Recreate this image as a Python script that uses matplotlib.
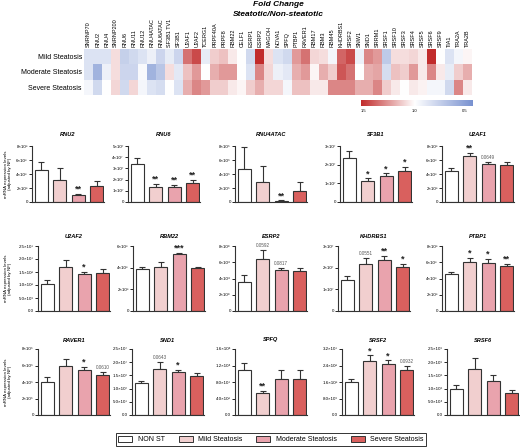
import math
import numpy as np
import matplotlib
matplotlib.use('Agg')
import matplotlib.pyplot as plt
from matplotlib.colors import LinearSegmentedColormap, Normalize
from matplotlib.patches import Patch

plt.rcParams['font.family'] = ['Liberation Sans', 'DejaVu Sans']

# ---------------- heatmap data ----------------
genes = ['SNRNP70', 'RNU2', 'RNU4', 'SNRNP200', 'RNU6', 'RNU11', 'RNU12', 'RNU4ATAC',
         'RNU6ATAC', 'SF3B1 TV1', 'SF3B1', 'U2AF1', 'U2AF2', 'TCERG1', 'PRPF40A', 'PRPF8',
         'RBM22', 'CELF1', 'ESRP1', 'ESRP2', 'MAGOH', 'NOVA1', 'SPFQ', 'PTBP1', 'RAVER1',
         'RBM17', 'RBM3', 'RBM45', 'KHDRBS1', 'SRSF2', 'SNW1', 'SND1', 'SRRM1', 'SRSF1',
         'SRSF10', 'SRSF3', 'SRSF4', 'SRSF5', 'SRSF6', 'SRSF9', 'TIA1', 'TRA2A', 'TRA2B']
heat_rows = ['Mild Steatosis', 'Moderate Steatosis', 'Severe Steatosis']
fc_mild = [0.85, 0.85, 0.85, 1.08, 0.75, 0.80, 0.85, 0.92, 0.78, 0.90, 0.78, 1.35, 1.45,
           0.90, 1.12, 1.15, 1.05, 1.00, 0.80, 1.60, 1.08, 0.85, 0.80, 1.25, 1.35, 1.10,
           1.08, 0.95, 1.38, 1.45, 0.92, 1.30, 1.25, 0.72, 1.08, 1.08, 1.10, 1.05, 1.60,
           1.00, 0.85, 0.95, 1.02]
fc_moderate = [0.85, 0.60, 0.92, 1.08, 0.78, 0.78, 0.97, 0.60, 0.70, 1.08, 0.88, 1.15,
               1.25, 1.00, 1.20, 1.25, 1.25, 1.00, 0.85, 1.30, 1.10, 0.92, 0.88, 1.20,
               1.25, 1.02, 1.20, 1.12, 1.42, 1.35, 1.00, 1.20, 1.22, 0.82, 1.15, 1.12,
               1.25, 1.05, 1.30, 1.05, 0.90, 1.12, 1.20]
fc_severe = [0.95, 0.80, 1.00, 1.10, 0.80, 1.10, 0.95, 0.85, 0.82, 1.00, 0.85, 1.20, 1.30,
             1.25, 1.12, 1.12, 1.05, 1.02, 1.12, 1.20, 1.10, 1.10, 0.95, 1.15, 1.15, 1.05,
             1.05, 1.30, 1.30, 1.30, 1.20, 1.20, 1.30, 1.12, 1.05, 1.00, 1.05, 1.03, 0.95,
             0.95, 0.80, 1.30, 1.05]
cbar_ticks = [1.5, 1.0, 0.5]

# ---------------- bar chart data ----------------
groups = ['NON ST', 'Mild Steatosis', 'Moderate Steatosis', 'Severe Steatosis']
group_colors = ['#ffffff', '#f1cfcf', '#e9a3ad', '#d9605e']

panel_titles = [['RNU2', 'RNU6', 'RNU4ATAC', 'SF3B1', 'U2AF1'],
                ['U2AF2', 'RBM22', 'ESRP2', 'KHDRBS1', 'PTBP1'],
                ['RAVER1', 'SND1', 'SPFQ', 'SRSF2', 'SRSF6']]
panel_means = [[[4.6, 3.2, 0.95, 2.25], [3.4, 1.3, 1.3, 1.7], [4.7, 2.9, 0.15, 1.6],
                [2.35, 1.15, 1.4, 1.65], [4.5, 6.55, 5.45, 5.3]],
               [[1.05, 1.68, 1.43, 1.45], [3.85, 4.1, 5.25, 3.95], [3.6, 6.4, 5.05, 4.9],
                [1.45, 2.15, 2.35, 2.05], [4.6, 6.0, 5.95, 5.55]],
               [[4.0, 5.95, 5.45, 4.8], [1.2, 1.75, 1.62, 1.48], [1.1, 0.53, 0.87, 0.88],
                [1.6, 2.6, 2.45, 2.2], [0.97, 1.75, 1.3, 0.85]]]
panel_errs = [[[1.1, 1.7, 0.25, 0.75], [0.5, 0.35, 0.25, 0.3], [3.1, 2.2, 0.08, 1.2],
               [0.38, 0.13, 0.15, 0.25], [0.35, 0.5, 0.3, 0.35]],
              [[0.15, 0.3, 0.08, 0.18], [0.25, 0.4, 0.15, 0.15], [0.85, 1.1, 0.25, 0.45],
               [0.18, 0.3, 0.2, 0.13], [0.15, 0.55, 0.45, 0.25]],
              [[0.55, 0.85, 0.4, 0.45], [0.1, 0.27, 0.1, 0.12], [0.16, 0.06, 0.22, 0.22],
               [0.15, 0.3, 0.2, 0.17], [0.15, 0.42, 0.22, 0.08]]]
panel_sig = [[['', '', '**', ''], ['', '**', '**', '**'], ['', '', '**', ''],
              ['', '*', '*', '*'], ['', '**', '0.0649', '']],
             [['', '', '*', ''], ['', '', '***', ''], ['', '0.0592', '0.0817', ''],
              ['', '0.0551', '**', '*'], ['', '*', '*', '**']],
             [['', '', '*', '0.0610'], ['', '0.0643', '*', ''], ['', '**', '', ''],
              ['', '*', '*', '0.0932'], ['', '', '', '']]]
panel_scale = [[1e6, 1e7, 1e5, 1e7, 1e6],
               [1e6, 1e6, 1e4, 1e7, 1e6],
               [1e5, 1e7, 1e4, 1e6, 1e5]]
panel_ymax = [[8, 5, 8, 3, 8], [2.5, 6, 8, 3, 8], [8, 2.5, 1.6, 3.2, 2.5]]
panel_step = [[2, 1, 2, 1, 2], [0.5, 2, 2, 1, 2], [2, 0.5, 0.4, 0.8, 0.5]]
panel_dec = [[0, 0, 0, 0, 0], [1, 0, 0, 0, 0], [0, 1, 1, 1, 1]]

# ---------------- figure ----------------
W, H = 520, 447
fig = plt.figure(figsize=(W / 100, H / 100), dpi=100)
fig.patch.set_facecolor('white')

def fx(px):
    return px / W

def fy(py):
    return 1 - py / H

# heatmap
cmap = LinearSegmentedColormap.from_list(
    'fc', [(0.0, '#7891d0'), (0.52, '#ffffff'), (1.0, '#c12b2b')])
norm = Normalize(vmin=0.42, vmax=1.53)
ax_h = fig.add_axes([fx(84), fy(95), fx(472) - fx(84), fy(49) - fy(95)])
data = np.array([fc_mild, fc_moderate, fc_severe])
ax_h.imshow(data, cmap=cmap, norm=norm, aspect='auto', interpolation='nearest')
ax_h.set_xticks(range(len(genes)))
ax_h.set_xticklabels(genes, rotation=90, fontsize=4)
ax_h.xaxis.tick_top()
ax_h.set_yticks(range(len(heat_rows)))
ax_h.set_yticklabels(heat_rows, fontsize=5)
ax_h.tick_params(length=0, pad=1.5)
for s in ax_h.spines.values():
    s.set_visible(False)
fig.text(fx(278), fy(5), 'Fold Change', ha='center', va='center',
         fontsize=6, fontweight='bold', fontstyle='italic')
fig.text(fx(278), fy(15), 'Steatotic/Non-steatotic', ha='center', va='center',
         fontsize=6, fontweight='bold', fontstyle='italic')

# colorbar
ax_cb = fig.add_axes([fx(361), fy(106.5), fx(473) - fx(361), fy(100) - fy(106.5)])
grad = np.linspace(1.53, 0.42, 256)[None, :]
ax_cb.imshow(grad, cmap=cmap, norm=norm, aspect='auto',
             extent=[1.53, 0.42, 0, 1])
ax_cb.set_xlim(1.53, 0.42)
ax_cb.set_yticks([])
ax_cb.set_xticks(cbar_ticks)
ax_cb.set_xticklabels([f'{t:.1f}' for t in cbar_ticks], fontsize=3)
ax_cb.tick_params(length=0, pad=2)
for s in ax_cb.spines.values():
    s.set_visible(False)

# bar panels
SUP = str.maketrans('0123456789-', '⁰¹²³⁴⁵⁶⁷⁸⁹⁻')

def fmt_tick(v, dec):
    if abs(v) < 1e-12:
        return '0' if dec == 0 else '0.0'
    e = int(math.floor(math.log10(v) + 1e-9))
    m = v / 10 ** e
    return f'{m:.{dec}f}×10' + str(e).translate(SUP)

panel_left_px = [[32, 128, 235, 340, 442], [38, 133, 235, 338, 442], [38, 132, 235, 342, 447]]
row_top_px = [146, 246, 349]
row_bot_px = [202, 311, 415]
panel_w_px = 72
edge = '#333333'

for r in range(3):
    for c in range(5):
        left = panel_left_px[r][c]
        ax = fig.add_axes([fx(left), fy(row_bot_px[r]), panel_w_px / W,
                           fy(row_top_px[r]) - fy(row_bot_px[r])])
        means = panel_means[r][c]
        errs = panel_errs[r][c]
        x = np.arange(4)
        ax.bar(x, means, width=0.72, color=group_colors, edgecolor=edge,
               linewidth=0.8, zorder=2)
        ax.errorbar(x, means, yerr=[np.zeros(4), errs], fmt='none', ecolor=edge,
                    elinewidth=0.8, capsize=2.2, capthick=0.8, zorder=1)
        ymax = panel_ymax[r][c]
        step = panel_step[r][c]
        ticks = np.arange(0, ymax + step / 2, step)
        ax.set_ylim(0, ymax)
        ax.set_xlim(-0.5, 3.4)
        ax.set_yticks(ticks)
        ax.set_yticklabels([fmt_tick(t * panel_scale[r][c], panel_dec[r][c]) for t in ticks],
                           fontsize=3.2)
        ax.set_xticks([])
        ax.tick_params(axis='y', length=2, width=0.6, pad=1)
        for s in ['top', 'right']:
            ax.spines[s].set_visible(False)
        for s in ['left', 'bottom']:
            ax.spines[s].set_linewidth(0.8)
            ax.spines[s].set_color(edge)
        for i, lab in enumerate(panel_sig[r][c]):
            if not lab:
                continue
            top = means[i] + errs[i]
            if lab.startswith('0'):
                ax.text(i, top + ymax * 0.03, lab, ha='center', va='bottom',
                        fontsize=3.3, color='#555555')
            else:
                ax.text(i, top + ymax * 0.0, lab, ha='center', va='bottom',
                        fontsize=6.5, fontweight='bold', color='#222222')
        fig.text(fx(left + panel_w_px / 2), fy(row_top_px[r] - 11 if r == 0 else row_top_px[r] - 9),
                 panel_titles[r][c], ha='center', va='center', fontsize=4.1,
                 fontweight='bold', fontstyle='italic')
        if c == 0:
            yc = (row_top_px[r] + row_bot_px[r]) / 2
            fig.text(fx(8), fy(yc), 'mRNA expression levels\n(adjusted by NF)',
                     rotation=90, ha='center', va='center', fontsize=3.2,
                     linespacing=1.1)

handles = [Patch(facecolor=col, edgecolor=edge, linewidth=0.7) for col in group_colors]
leg = fig.legend(handles, groups, loc='center', bbox_to_anchor=(fx(271), fy(439.5)),
                 ncol=4, fontsize=5, frameon=True, fancybox=False, edgecolor='black',
                 handlelength=2.0, handleheight=0.9, columnspacing=2.0, borderpad=0.35,
                 handletextpad=0.8)
leg.get_frame().set_linewidth(0.7)

fig.savefig('out.png', dpi=100, facecolor='white')
